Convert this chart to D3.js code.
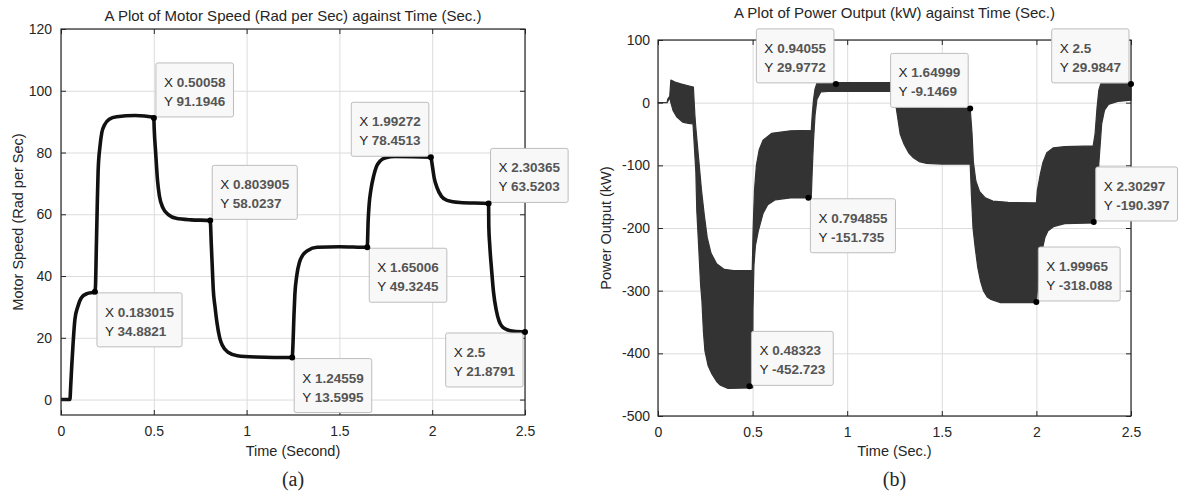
<!DOCTYPE html>
<html>
<head>
<meta charset="utf-8">
<script src="https://cdn.jsdelivr.net/npm/d3@7/dist/d3.min.js"></script>
<style>
  body { margin: 0; background: #fff; }
  svg text { font-family: "Liberation Sans", Arial, sans-serif; fill: #262626; }
</style>
</head>
<body>
<script>
// ---- chart (a): motor speed ----
const speedTime = [0, 0.048, 0.052, 0.058, 0.065, 0.075, 0.09, 0.11, 0.14, 0.183,
  0.186, 0.19, 0.195, 0.2, 0.21, 0.22, 0.235, 0.26, 0.3, 0.4, 0.5,
  0.502, 0.51, 0.52, 0.53, 0.55, 0.58, 0.62, 0.7, 0.804,
  0.81, 0.815, 0.82, 0.83, 0.84, 0.855, 0.87, 0.9, 0.95, 1.05, 1.2456,
  1.25, 1.255, 1.26, 1.27, 1.285, 1.3, 1.33, 1.38, 1.5, 1.65,
  1.655, 1.66, 1.67, 1.685, 1.7, 1.72, 1.75, 1.8, 1.9927,
  2.0, 2.01, 2.025, 2.05, 2.08, 2.15, 2.3037,
  2.305, 2.31, 2.32, 2.33, 2.345, 2.36, 2.39, 2.44, 2.5];
const speedVal = [0, 0, 4, 11, 18, 26, 30, 33, 34.3, 34.9,
  37, 48, 62, 74, 82, 86.5, 89, 90.8, 91.6, 92, 91.4,
  88, 80, 71, 66, 62, 59.8, 58.7, 58.2, 58,
  50, 43, 36, 30, 25, 20, 17.5, 15.3, 14.2, 13.8, 13.6,
  18, 27, 34, 40, 44.5, 46.5, 48.3, 49.3, 49.5, 49.3,
  58, 63, 68, 72.5, 75.5, 77.3, 78.3, 78.7, 78.5,
  76, 72, 68.8, 65.8, 64.5, 63.8, 63.5,
  56, 50, 42, 35, 29, 25.5, 23, 22.1, 21.9];

const speedTipX = [0.50058, 0.803905, 1.99272, 2.30365, 0.183015, 1.24559, 1.65006, 2.5];
const speedTipY = [91.1946, 58.0237, 78.4513, 63.5203, 34.8821, 13.5995, 49.3245, 21.8791];
const speedTipSide = ["ur", "ur", "ul", "ur", "dr", "dr", "dr", "dl"];

const speedXTicks = [0, 0.5, 1, 1.5, 2, 2.5];
const speedYTicks = [0, 20, 40, 60, 80, 100, 120];

// ---- chart (b): power output, upper and lower edge of the oscillating band ----
const upperT = [0, 0.048, 0.052, 0.062, 0.068, 0.09, 0.12, 0.16, 0.187,
  0.195, 0.2, 0.215, 0.23, 0.245, 0.26, 0.28, 0.31, 0.35, 0.4, 0.498,
  0.503, 0.51, 0.52, 0.535, 0.555, 0.6, 0.7, 0.81,
  0.815, 0.822, 0.83, 0.84, 0.87, 1.0, 1.24,
  1.255, 1.262, 1.4, 1.65,
  1.66, 1.667, 1.68, 1.7, 1.73, 1.77, 1.85, 2.0,
  2.005, 2.02, 2.035, 2.055, 2.09, 2.15, 2.3,
  2.31, 2.32, 2.33, 2.34, 2.5];
const upperP = [0, 0, 6, 10, 36, 33, 30, 27, 25,
  -20, -40, -90, -140, -180, -215, -240, -257, -266, -268, -268,
  -200, -140, -100, -75, -60, -49, -45, -44,
  -20, 5, 22, 31, 32, 32, 32,
  30, -7, -8, -8.5,
  -50, -95, -125, -142, -152, -157, -159, -160,
  -140, -115, -95, -80, -72, -70, -69,
  -50, -10, 20, 30, 30];

const lowerT = [0, 0.048, 0.062, 0.068, 0.08, 0.1, 0.13, 0.16, 0.185,
  0.2, 0.205, 0.215, 0.225, 0.232, 0.24, 0.248, 0.265, 0.285, 0.31, 0.33, 0.37, 0.5,
  0.502, 0.507, 0.515, 0.53, 0.555, 0.58, 0.62, 0.7, 0.81,
  0.815, 0.822, 0.83, 0.84, 0.86, 0.9, 1.24,
  1.255, 1.265, 1.28, 1.3, 1.325, 1.35, 1.38, 1.42, 1.5, 1.65,
  1.657, 1.665, 1.676, 1.69, 1.705, 1.72, 1.74, 1.76, 1.81, 2.0,
  2.01, 2.02, 2.03, 2.045, 2.06, 2.09, 2.15, 2.31,
  2.32, 2.33, 2.345, 2.36, 2.38, 2.43, 2.5];
const lowerP = [0, 0, 8, 0, -13, -23, -31, -33, -34,
  -110, -172, -230, -290, -316, -365, -396, -420, -433, -445, -451, -456, -455,
  -330, -260, -228, -205, -177, -163, -155, -152, -152,
  -110, -60, -20, 5, 17, 18, 18,
  0, -20, -50, -66, -80, -88, -94, -97, -98, -98,
  -150, -200, -230, -263, -285, -300, -310, -314, -319, -319,
  -280, -250, -236, -215, -205, -198, -193, -192,
  -172, -97, -34, -12, -3, 2, 4];

const powerTipX = [0.94055, 0.794855, 0.48323, 1.64999, 2.5, 2.30297, 1.99965];
const powerTipY = [29.9772, -151.735, -452.723, -9.1469, 29.9847, -190.397, -318.088];
const powerTipSide = ["ul", "dr", "ur", "ul", "ul", "ur", "ur"];

const powerXTicks = [0, 0.5, 1, 1.5, 2, 2.5];
const powerYTicks = [100, 0, -100, -200, -300, -400, -500];

const svg = d3.select("body").append("svg")
  .attr("width", 1181)
  .attr("height", 492);

// draws the box, grid, ticks and labels of one panel and returns its scales
function makePanel(p) {
  const x = d3.scaleLinear().domain(p.xDomain).range([p.left, p.right]);
  const y = d3.scaleLinear().domain(p.yDomain).range([p.bottom, p.top]);
  const g = svg.append("g");
  const h = p.bottom - p.top, w = p.right - p.left;

  // grid
  g.append("g")
    .attr("transform", "translate(0," + p.bottom + ")")
    .call(d3.axisBottom(x).tickValues(p.xTicks).tickSize(-h).tickFormat(""))
    .call(s => s.select(".domain").remove())
    .selectAll("line").attr("stroke", "#dcdcdc");
  g.append("g")
    .attr("transform", "translate(" + p.left + ",0)")
    .call(d3.axisLeft(y).tickValues(p.yTicks).tickSize(-w).tickFormat(""))
    .call(s => s.select(".domain").remove())
    .selectAll("line").attr("stroke", "#dcdcdc");

  const data = g.append("g");

  // axes, inward ticks on every side
  const ax = g.append("g");
  ax.append("g")
    .attr("transform", "translate(0," + p.bottom + ")")
    .call(d3.axisBottom(x).tickValues(p.xTicks).tickSize(-5).tickPadding(11)
      .tickFormat(d => String(d)));
  ax.append("g")
    .attr("transform", "translate(0," + p.top + ")")
    .call(d3.axisTop(x).tickValues(p.xTicks).tickSize(-5).tickFormat(""));
  ax.append("g")
    .attr("transform", "translate(" + p.left + ",0)")
    .call(d3.axisLeft(y).tickValues(p.yTicks).tickSize(-5).tickPadding(p.yPad)
      .tickFormat(d => String(d)));
  ax.append("g")
    .attr("transform", "translate(" + p.right + ",0)")
    .call(d3.axisRight(y).tickValues(p.yTicks).tickSize(-5).tickFormat(""));
  ax.selectAll(".domain").remove();
  ax.selectAll("line").attr("stroke", "#262626");
  ax.selectAll("text").attr("font-size", 14).attr("fill", "#262626")
    .attr("font-family", "Liberation Sans, Arial, sans-serif");

  g.append("rect")
    .attr("x", p.left).attr("y", p.top)
    .attr("width", w).attr("height", h)
    .attr("fill", "none").attr("stroke", "#262626").attr("stroke-width", 1.2);

  const cx = (p.left + p.right) / 2;
  g.append("text").attr("x", cx).attr("y", p.titleY)
    .attr("text-anchor", "middle").attr("font-size", 15).text(p.title);
  g.append("text").attr("x", cx).attr("y", 456)
    .attr("text-anchor", "middle").attr("font-size", 14.5).text(p.xLabel);
  g.append("text")
    .attr("transform", "translate(" + p.yLabelX + "," + p.yLabelMid + ") rotate(-90)")
    .attr("text-anchor", "middle").attr("font-size", 14.5).text(p.yLabel);
  g.append("text").attr("x", cx).attr("y", 486)
    .attr("text-anchor", "middle").attr("font-size", 20)
    .style("font-family", "Liberation Serif, Times New Roman, serif")
    .text(p.caption);

  return { x: x, y: y, data: data, g: g };
}

// MATLAB style data tips
function addTips(panel, xs, ys, sides) {
  const layer = panel.g.append("g");
  xs.forEach(function(tx, i) {
    const px = panel.x(tx), py = panel.y(ys[i]);
    const tip = layer.append("g");
    const box = tip.append("rect")
      .attr("fill", "#f8f8f8").attr("stroke", "#bdbdbd")
      .attr("rx", 2).attr("ry", 2);
    const lines = [["X", String(tx)], ["Y", String(ys[i])]];
    const texts = lines.map(function(l, k) {
      const t = tip.append("text").attr("font-size", 13.5).attr("y", 24 + k * 19);
      t.append("tspan").attr("fill", "#262626").text(l[0] + " ");
      t.append("tspan").attr("fill", "#555").attr("font-weight", "bold").text(l[1]);
      return t;
    });
    const tw = d3.max(texts, t => t.node().getComputedTextLength());
    const bw = tw + 16, bh = 54;
    box.attr("width", bw).attr("height", bh);
    texts.forEach(t => t.attr("x", 8));
    const s = sides[i];
    const bx = s[1] === "r" ? px + 2 : px - 2 - bw;
    const by = s[0] === "u" ? py - 1 - bh : py + 1;
    tip.attr("transform", "translate(" + bx + "," + by + ")");
    layer.append("circle").attr("cx", px).attr("cy", py).attr("r", 3).attr("fill", "#000");
  });
}

// ---- panel (a) ----
const pa = makePanel({
  left: 61, right: 525, top: 29, bottom: 415,
  xDomain: [0, 2.5], yDomain: [-5, 120],
  xTicks: speedXTicks, yTicks: speedYTicks, yPad: 9,
  title: "A Plot of Motor Speed (Rad per Sec) against Time (Sec.)", titleY: 21,
  xLabel: "Time (Second)", yLabel: "Motor Speed (Rad per Sec)",
  yLabelX: 23, yLabelMid: 222, caption: "(a)"
});

const speedLine = d3.line()
  .x((d, i) => pa.x(speedTime[i]))
  .y(d => pa.y(d))
  .curve(d3.curveMonotoneX);

pa.data.append("path")
  .attr("d", speedLine(speedVal))
  .attr("fill", "none")
  .attr("stroke", "#111")
  .attr("stroke-width", 3.6)
  .attr("stroke-linejoin", "round");

addTips(pa, speedTipX, speedTipY, speedTipSide);

// ---- panel (b) ----
const pb = makePanel({
  left: 658, right: 1131, top: 40, bottom: 416,
  xDomain: [0, 2.5], yDomain: [-500, 100],
  xTicks: powerXTicks, yTicks: powerYTicks, yPad: 8,
  title: "A Plot of Power Output (kW) against Time (Sec.)", titleY: 18,
  xLabel: "Time (Sec.)", yLabel: "Power Output  (kW)",
  yLabelX: 611, yLabelMid: 228, caption: "(b)"
});

// band outline: upper edge forwards, lower edge backwards
const bandPts = upperT.map((t, i) => [t, upperP[i]])
  .concat(lowerT.map((t, i) => [t, lowerP[i]]).reverse());
const bandLine = d3.line()
  .x(d => pb.x(d[0]))
  .y(d => pb.y(d[1]));

pb.data.append("path")
  .attr("d", bandLine(bandPts) + "Z")
  .attr("fill", "#333")
  .attr("stroke", "#333")
  .attr("stroke-width", 1.2)
  .attr("stroke-linejoin", "round");

addTips(pb, powerTipX, powerTipY, powerTipSide);
</script>
</body>
</html>
